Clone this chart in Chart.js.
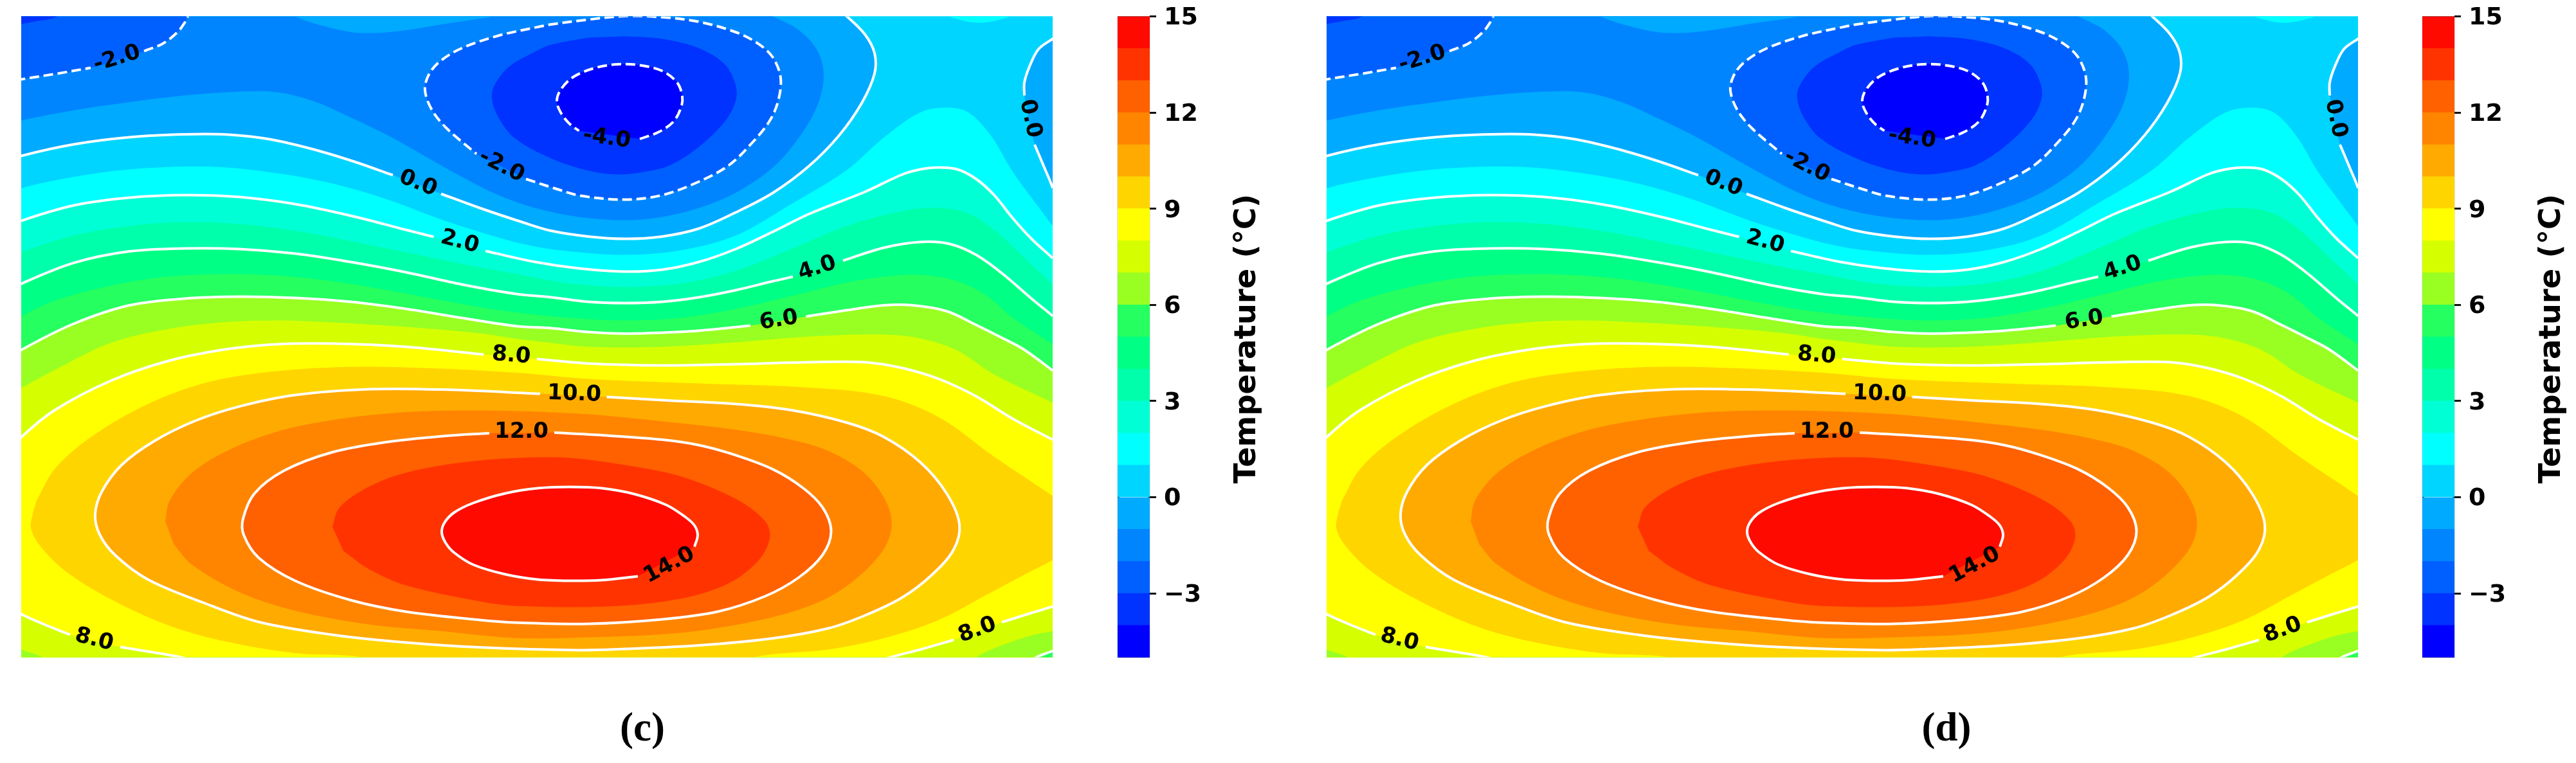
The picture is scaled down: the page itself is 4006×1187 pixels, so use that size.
<!DOCTYPE html>
<html><head><meta charset="utf-8">
<script src="https://cdn.jsdelivr.net/npm/chart.js@4/dist/chart.umd.min.js"></script>
<style>html,body{margin:0;background:#fff;width:4006px;height:1187px;overflow:hidden}canvas{position:absolute}</style>
</head><body>
<canvas id="pc" width="1604" height="1162" style="left:33px;top:25px"></canvas>
<canvas id="bc" width="300" height="1187" style="left:1700px;top:0"></canvas>
<canvas id="pd" width="1604" height="1162" style="left:2063px;top:25px"></canvas>
<canvas id="bd" width="300" height="1187" style="left:3729px;top:0"></canvas>
<script>
// Contour lines, in field units (0-1604 across, 0-997 down)
const lvM4 = [[962,190.6],[991,180],[1014,164],[1026,142],[1028,124.5],[1020,103],[997,85],[962,76],[928,74.5],[893,80],[859,94],[839,114],[833,132],[839,149.5],[853,167.4],[867.5,178]];
const lvM3c = [[939,31],[997,35],[1054,49.5],[1094,74.5],[1111,107],[1111,132],[1094,164],[1054,203],[1008,232],[968,242],[928,246],[882,240],[824,221],[767,189],[742,157],[732,128],[736,107],[759,78],[799,55],[824,44],[882,33]];
const lvM3tl = [[-30,20],[0,12],[24,7.4],[53,1.3],[70,-15]];
const lvM2tlA = [[-30,105],[0,98],[53,89.5],[108,80]];
const lvM2tlB = [[191,54],[220,42.4],[243,24.5],[254,10],[259,0],[262,-15]];
const lvM2c = [[785,253],[828,267],[870,279],[939,285],[997,278],[1054,257],[1100,232],[1134,199.5],[1163,164],[1177,132],[1181,96],[1169,64],[1146,42.4],[1111,24.5],[1054,8.4],[997,1.3],[939,-0.5],[882,5],[824,12.5],[799,17.4],[742,30],[685,49.5],[650,71],[633,92.4],[628,115.6],[639,146],[662,174.5],[708,214]];
const lvM1 = [[-30,171],[0,162],[82,146],[168,133.5],[254,123],[340,117],[398,118],[455,132],[512,157],[570,185],[627,217],[685,249.5],[742,278],[799,298],[867,312],[939,317],[997,312],[1054,298],[1111,274.5],[1169,235],[1209,189],[1238,139],[1248,92],[1238,53],[1209,21],[1169,0],[1140,-15]];
const lvM1top = [[410,-12],[426,0],[472,15.6],[524,25.6],[587,23],[656,12],[736,0],[770,-8]];
const lv0a = [[-30,228],[0,217],[82,199],[168,188],[254,183.5],[323,184],[386,191],[455,207],[518,226],[578,247]];
const lv0b = [[653,276],[713,298],[782,321],[824,333.5],[882,342.4],[939,346],[997,342.4],[1054,330],[1111,305],[1169,274.5],[1226,232],[1272,185],[1307,135],[1327,89],[1327,57],[1312,28],[1284,0],[1265,-15]];
const lv0c = [[1625,22],[1604,35],[1582,51],[1568,78],[1560,103],[1560,123]];
const lv0d = [[1576,199.5],[1591,235],[1604,267],[1612,300]];
const lv1 = [[-30,279],[0,267.5],[53,255],[139,241],[225,234.5],[311,234.5],[398,244],[484,260],[570,285],[656,317],[742,344],[799,358],[853,365.5],[939,371],[1025,364],[1111,341],[1197.5,292],[1284,239],[1341,189],[1398,149.5],[1439,142],[1473,149.5],[1507.5,185],[1542,242],[1571,282],[1604,326],[1630,362]];
const lv1top = [[1425,-10],[1441.5,0],[1490,10],[1539,0],[1555,-8]];
const lv2a = [[-30,332],[0,318],[82,294],[168,282],[254,278],[340,281],[426,292],[512,310],[598,332],[641.5,343]];
const lv2b = [[722,365],[799,382],[867,392],[939,397],[997,394],[1054,382],[1111,362],[1169,335],[1226,307],[1312,273],[1370,246],[1398,238],[1427,235],[1456,238],[1485,253],[1513,278],[1542,314],[1571,346],[1604,376],[1634,405]];
const lv3 = [[-30,381],[0,367],[82,341],[168,326],[254,320],[340,323],[426,333.5],[512,349.5],[598,367],[685,385],[771,401],[853,415.6],[939,421],[1025,415.6],[1111,396],[1197.5,362],[1284,326],[1370,303],[1427,298],[1473,307],[1513,332],[1559,374.5],[1604,417],[1634,446]];
const lv4a = [[-30,433],[0,416],[82,383.4],[168,365.6],[254,361],[340,362],[426,369],[512,382],[598,398],[685,417],[771,432],[824,437],[882,444],[939,446],[997,444],[1054,437],[1111,426],[1169,412],[1200,405]];
const lv4b = [[1278,380],[1341,360],[1398,351],[1444,354],[1485,371],[1525,399.5],[1571,439],[1604,466],[1634,492]];
const lv5 = [[-30,484],[0,466.5],[53,442],[139,419],[225,405],[311,401],[398,403],[484,412],[570,426],[656,442],[742,457],[853,469],[939,473],[1025,469],[1111,455],[1197.5,435],[1284,414],[1341,405],[1398,402],[1456,412],[1502,435],[1542,469],[1604,510],[1634,530]];
const lv6a = [[-30,540],[0,519],[82,478],[168,449.5],[254,439],[340,436],[426,438],[512,444],[598,455],[685,469],[771,482],[824,485],[882,491],[939,493.5],[997,492],[1054,489],[1134,481]];
const lv6b = [[1220.5,467],[1284,457],[1341,449.5],[1387,449.5],[1439,458.5],[1485,480],[1525,500],[1559,518],[1604,551],[1634,575]];
const lv6br = [[1560,1010],[1579,997],[1604,987],[1630,975]];
const lv7 = [[-30,595],[0,578],[53,549.5],[139,508],[225,487],[311,476],[398,473],[484,476],[598,483],[713,493],[767,501],[824,508],[882,514],[997,514],[1111,507],[1226,498],[1341,495],[1398,501],[1456,520],[1513,557],[1604,601],[1640,620]];
const lv7br = [[1470,1010],[1485,997],[1513,983],[1571,963],[1604,956.5],[1640,950]];
const lv7bl = [[-30,970],[0,985],[33,997],[50,1015]];
const lv8a = [[-25,685],[0,654.8],[53,612],[139,567],[225,537],[311,519],[398,510],[484,509],[598,514],[719,526]];
const lv8b = [[802,533],[882,540],[997,543],[1111,541],[1226,538],[1312,538],[1370,547],[1427,564],[1485,591],[1542,626],[1604,658.5],[1634,675]];
const lv8blA = [[-30,910],[0,929.8],[36,946],[76,962]];
const lv8blB = [[154,981],[197,988],[248,997],[300,1012]];
const lv8brA = [[1310,1012],[1352.5,997],[1398,985],[1450,970]];
const lv8brB = [[1525,942.5],[1571,928],[1604,918],[1640,905]];
const lv9 = [[24,753],[53,703],[110.5,653],[197,603],[283,571],[369,555],[484,546],[598,546],[767,554],[882,564],[1054,571],[1226,577.5],[1341,590.6],[1427,623.5],[1513,685],[1604,746],[1640,772],[1650,800],[1640,825],[1604,846],[1559,869],[1502,899.6],[1427,939],[1341,967.5],[1255,985],[1140,997],[1100,1020],[600,1020],[530,997],[426,990.6],[311,971],[225,946],[139,906.6],[70,864],[30,824.5],[15,796],[18.7,770]];
const lv10 = [[910.5,592],[997,597],[1111,603],[1197.5,612.5],[1284,632],[1341,654],[1398,693.6],[1439,742],[1459,790],[1450,829.5],[1416,869],[1370,904],[1312,932],[1255,952],[1169,967.5],[1054,978.5],[939,984],[867,986],[713,981.6],[598,974],[484,962],[369,942],[283,912],[197,876],[146,838],[122,806],[115,775],[125,740],[156,698],[208,660],[271,629],[340,606.6],[426,589],[541,580],[656,580.6],[807,587]];
const lv11 = [[224,785],[231,753],[265.5,710],[323,674.5],[398,646],[484,628],[598,615.6],[713,613],[867,618],[997,630],[1111,643],[1197,658.5],[1255,676],[1312,711],[1347,759],[1353,799],[1335,838],[1284,886],[1226,917],[1140,941],[1025,959],[882,966],[767,967],[656,956.6],[541,946],[426,924.5],[340,896],[265.5,853],[237,821]];
const lv12 = [[829,647.6],[910.5,652],[997,658.5],[1054,667],[1111,682.6],[1169,704.6],[1215,733],[1246,763.7],[1259.5,801],[1246,838],[1209,873],[1157,902],[1083,926],[997,938],[882,945],[767,943],[713,939],[598,926],[512,908],[426,878],[369,842],[346,806.6],[345,781.6],[363,742],[409,706.6],[484,678],[570,662],[656,653],[728,648.4]];
const lv13 = [[484,794],[495,764],[541,731.6],[598,710],[685,694],[771,687],[853,687],[939,698],[1025,715.5],[1111,750.6],[1157,785.6],[1164,812],[1146,847],[1100,882],[1025,906],[910.5,918],[767,917],[713,910],[598,885],[541,860],[501,831.6]];
const lv14 = [[1047,825],[1052,807],[1047,792],[1033,779],[1003,760],[953,743],[903,734],[853,732],[803,734],[753,742],[703,757],[673,772],[658,788],[654,803],[660,819],[673,834],[703,853],[753,868],[803,876],[853,878],[903,877],[959,871]];

// Contour label texts and where they sit on their lines (field units, degrees)
const labelText = ['-2.0','-2.0','-4.0','0.0','0.0','2.0','4.0','6.0','8.0','10.0','12.0','14.0','8.0','8.0'];
const labelX = [149,747,910.5,617,1569,682,1238,1178,762,860,778,1008,113.4,1487];
const labelY = [66,233,190,260,159,351,392,473,528,588,647,854,970,955];
const labelAngle = [-17,27,8,22,78,15,-18,-9,5,2,0,-28,14,-20];
const captions = {pc:'(c)',pd:'(d)'};

// Colour scale
const bandLow = [-5,-4,-3,-2,-1,0,1,2,3,4,5,6,7,8,9,10,11,12,13,14];
const bandColor = ['#0000ff','#0033ff','#0060ff','#0085ff','#00aaff','#00d5ff','#00ffff','#00ffd5','#00ffaa','#00ff85','#25ff5f','#99ff22','#d5ff00','#ffff00','#ffd500','#ffaa00','#ff8500','#ff6000','#ff3300','#ff0a00'];
const colorTicks = [-3,0,3,6,9,12,15];
const colorbarTitle = 'Temperature (°C)';
const col = t => bandColor[bandLow.indexOf(t)];

// Outer helpers beyond the field edges
const below = [[1660,1060],[-60,1060]];
const above = [[-60,-60]];
const fills = [
  [[[-60,-60],[1660,-60],[1660,1060],[-60,1060]],col(1),0],
  [[...lv2a,...lv2b,...below],col(2)],
  [[...lv3,...below],col(3)],
  [[...lv4a,...lv4b,...below],col(4)],
  [[...lv5,...below],col(5)],
  [[...lv6a,...lv6b,...below],col(6)],
  [[...lv7,...below],col(7)],
  [[...lv8a,...lv8b,...below],col(8)],
  [[...lv8brA,...lv8brB,[1660,1060]],col(7)],
  [[...lv8blA,...lv8blB,[-60,1060]],col(7)],
  [[...lv7br,[1660,1060]],col(6)],
  [[...lv7bl,[-60,1060]],col(6)],
  [[...lv6br,[1660,1060]],col(5)],
  [lv9,col(9)],[lv10,col(10)],[lv11,col(11)],[lv12,col(12)],[lv13,col(13)],[lv14,col(14)],
  [[...lv1,[1660,-60],[-60,-60]],col(0)],
  [[...lv1top,[1560,-60],[1420,-60]],col(1)],
  [[...lv0a,...lv0b,...above],col(-1)],
  [[...lv0c,...lv0d,[1660,300],[1660,20]],col(-1)],
  [[...lvM1,...above],col(-2)],
  [[...lvM1top,[770,-60],[410,-60]],col(-1)],
  [[...lvM2tlA,...lvM2tlB,...above],col(-3)],
  [lvM2c,col(-3)],
  [lvM3c,col(-4)],
  [[...lvM3tl,...above],col(-4)],
  [lvM4,col(-5)]
];
const solidLines = [lv0a,lv0b,lv0c,lv0d,lv2a,lv2b,lv4a,lv4b,lv6a,lv6b,lv6br,lv8a,lv8b,lv8blA,lv8blB,lv8brA,lv8brB,lv10,lv12,lv14];
const dashedLines = [lvM2tlA,lvM2tlB,lvM2c,lvM4];
const xy = a => a.map(([x,y]) => ({x,y}));
const smooth = 0.34;

const bandPlugin = {
  id:'bands',
  beforeDatasetsDraw(chart){
    const {ctx,chartArea:a} = chart;
    ctx.save();
    ctx.beginPath(); ctx.rect(a.left,a.top,a.right-a.left,a.bottom-a.top); ctx.clip();
    chart.data.datasets.forEach((d,i)=>{
      if(!d.bandFill) return;
      const line = chart.getDatasetMeta(i).dataset;
      line.updateControlPoints(a,'x');
      ctx.beginPath(); line.path(ctx); ctx.closePath();
      ctx.fillStyle = d.bandFill; ctx.fill();
    });
    ctx.restore();
  },
  afterDatasetsDraw(chart){
    const {ctx,scales:{x,y}} = chart;
    ctx.save();
    ctx.font = 'bold 34px "DejaVu Sans"';
    ctx.fillStyle = '#000'; ctx.textAlign='center'; ctx.textBaseline='middle';
    labelText.forEach((t,i)=>{
      ctx.save();
      ctx.translate(x.getPixelForValue(labelX[i]),y.getPixelForValue(labelY[i]));
      ctx.rotate(labelAngle[i]*Math.PI/180);
      ctx.fillText(t,0,0);
      ctx.restore();
    });
    ctx.font = 'bold 63px "Liberation Serif"';
    ctx.textBaseline='alphabetic';
    ctx.fillText(captions[chart.canvas.id],chart.canvas.id==='pc'?966:964,1127);
    ctx.restore();
  }
};

function plot(id){
  const datasets = [];
  fills.forEach(([pts,c,t])=>datasets.push({data:xy(pts),showLine:true,borderWidth:0,pointRadius:0,bandFill:c,tension:t===0?0:smooth,clip:0}));
  solidLines.forEach(pts=>datasets.push({data:xy(pts),showLine:true,borderColor:'#fff',borderWidth:4,pointRadius:0,tension:smooth,clip:0}));
  dashedLines.forEach(pts=>datasets.push({data:xy(pts),showLine:true,borderColor:'#fff',borderWidth:4,borderDash:[15,7],pointRadius:0,tension:smooth,clip:0}));
  new Chart(document.getElementById(id),{
    type:'scatter',
    data:{datasets},
    options:{
      responsive:false,animation:false,events:[],
      layout:{padding:{top:0.5,left:0,right:0,bottom:164.5}},
      plugins:{legend:{display:false},tooltip:{enabled:false},title:{display:false}},
      scales:{
        x:{type:'linear',min:0,max:1604,display:false},
        y:{type:'linear',min:0,max:997,reverse:true,display:false}
      }
    },
    plugins:[bandPlugin]
  });
}

const titlePlugin = {
  id:'cbTitle',
  afterDraw(chart){
    const {ctx} = chart;
    ctx.save();
    ctx.translate(240,527);
    ctx.rotate(-Math.PI/2);
    ctx.font='bold 46.5px "DejaVu Sans"';
    ctx.fillStyle='#000'; ctx.textAlign='center'; ctx.textBaseline='middle';
    ctx.fillText(colorbarTitle,0,0);
    ctx.restore();
  }
};

function colorbar(id){
  const datasets = bandLow.map((v,i)=>({data:[[v,v+1]],backgroundColor:bandColor[i],borderWidth:0,grouped:false,barPercentage:1,categoryPercentage:1}));
  datasets.push({data:[[-5,15]],backgroundColor:'rgba(0,0,0,0)',borderColor:'#111',borderWidth:2.5,grouped:false,barPercentage:1,categoryPercentage:1,clip:false,borderSkipped:false});
  new Chart(document.getElementById(id),{
    type:'bar',
    data:{labels:['T'],datasets},
    options:{
      responsive:false,animation:false,events:[],
      layout:{padding:{top:25.5,left:38,right:0,bottom:164.2}},
      plugins:{legend:{display:false},tooltip:{enabled:false}},
      scales:{
        x:{display:false},
        y:{position:'right',min:-5,max:15,
           afterFit:s=>{s.width=212;s.paddingTop=0;s.paddingBottom=0;},
           afterBuildTicks:s=>{s.ticks=colorTicks.map(v=>({value:v}));},
           border:{display:false},
           grid:{drawOnChartArea:false,drawTicks:true,tickLength:10,tickWidth:3,tickColor:'#111'},
           ticks:{color:'#000',padding:12,labelOffset:3,font:{family:'"DejaVu Sans"',size:38,weight:'bold'},
                  callback:v=>v<0?'\u2212'+Math.abs(v):String(v)}}
      }
    },
    plugins:[titlePlugin]
  });
}
plot('pc');colorbar('bc');plot('pd');colorbar('bd');
</script>
</body></html>
